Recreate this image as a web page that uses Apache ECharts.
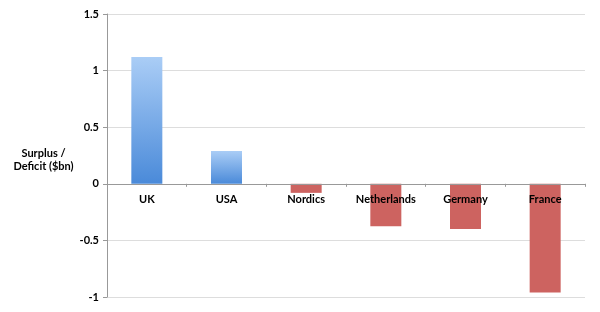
<!DOCTYPE html>
<html><head><meta charset="utf-8">
<script src="https://cdn.jsdelivr.net/npm/echarts@6/dist/echarts.min.js"></script>
<style>html,body{margin:0;padding:0;background:#fff}#c{width:600px;height:312px}</style>
</head><body><div id="c"></div>
<script>
const categories = ['UK', 'USA', 'Nordics', 'Netherlands', 'Germany', 'France'];
const values = [1.12, 0.29, -0.08, -0.375, -0.40, -0.96];
const yTicks = [-1, -0.5, 0, 0.5, 1, 1.5];
const yName = 'Surplus /\nDeficit ($bn)';

const blue = new echarts.graphic.LinearGradient(0, 0, 0, 1, [
  {offset: 0, color: '#aacdf6'}, {offset: 1, color: '#4a8ad9'}
]);
const red = '#cd6360';
const gridTop = 14, gridBottom = 15, H = 312;
const yMin = yTicks[0], yMax = yTicks[yTicks.length - 1];
const plotH = H - gridTop - gridBottom;
const zeroOffset = -plotH * (0 - yMin) / (yMax - yMin);
const font = 'Lato';
const chart = echarts.init(document.getElementById('c'));
chart.setOption({
  animation: false,
  grid: {left: 107, right: 15, top: gridTop, bottom: gridBottom, containLabel: false, outerBoundsMode: 'none'},
  xAxis: {
    type: 'category', data: categories, position: 'bottom', offset: zeroOffset,
    axisLine: {onZero: false, lineStyle: {color: '#999', width: 1}},
    axisTick: {show: true, length: 3, lineStyle: {color: '#999'}},
    axisLabel: {color: '#000', fontFamily: font, fontWeight: 'bold', fontSize: 11, margin: 10, interval: 0},
    z: 5
  },
  yAxis: {
    type: 'value', min: yMin, max: yMax, interval: 0.5,
    name: yName, nameLocation: 'middle', nameRotate: 0, nameGap: 62,
    nameTextStyle: {color: '#000', fontFamily: font, fontWeight: 'bold', fontSize: 11, align: 'center', verticalAlign: 'top', lineHeight: 13, padding: [-9, 0, 0, 0]},
    axisLine: {show: true, lineStyle: {color: '#999'}},
    axisTick: {show: true, length: 4, lineStyle: {color: '#999'}},
    axisLabel: {color: '#000', fontFamily: font, fontWeight: 'bold', fontSize: 11, margin: 8},
    splitLine: {lineStyle: {color: '#ddd'}}
  },
  series: [{
    type: 'bar', barWidth: 31,
    data: values.map(v => ({value: v, itemStyle: {color: v >= 0 ? blue : red}}))
  }]
});
</script></body></html>
